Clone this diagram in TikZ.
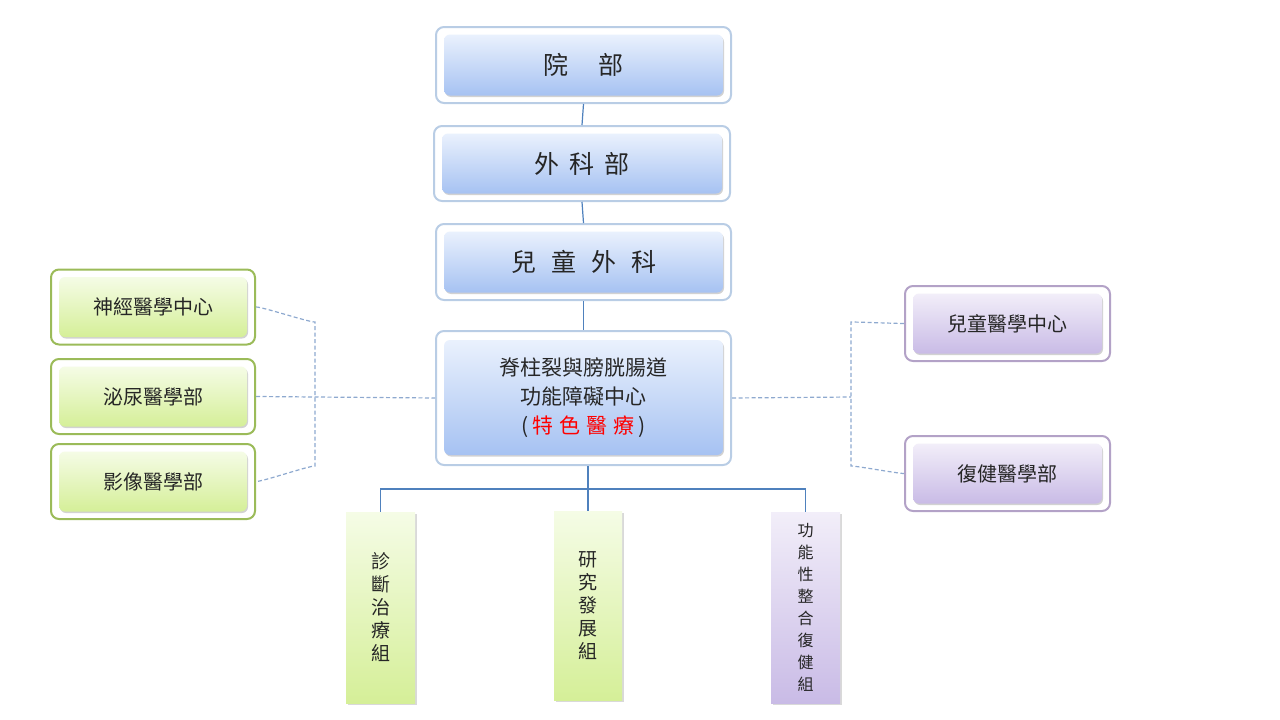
\documentclass[tikz,border=0pt]{standalone}
\usepackage{fontspec}
\setmainfont{Noto Sans CJK TC}
\usetikzlibrary{shadows}
\definecolor{bB}{HTML}{B9CDE5}\definecolor{bT}{HTML}{EAF1FD}\definecolor{bD}{HTML}{A6C2F2}
\definecolor{gB}{HTML}{9BBB59}\definecolor{gT}{HTML}{F5FCE6}\definecolor{gD}{HTML}{D5EF98}
\definecolor{pB}{HTML}{B3A2C7}\definecolor{pT}{HTML}{F2EEF9}\definecolor{pD}{HTML}{C9BBE6}
\definecolor{ln}{HTML}{4F81BD}\definecolor{dl}{HTML}{8EA9CF}
\begin{document}
\begin{tikzpicture}[x=1pt,y=-1pt,
 frame/.style={draw=#1,line width=2pt,fill=white,rounded corners=8pt,inner sep=0pt},
 inner/.style 2 args={rounded corners=6pt,top color=#1,bottom color=#2,drop shadow={shadow xshift=1pt,shadow yshift=-1.5pt,opacity=0.35},inner sep=0pt,align=center,text=black!85},
 bar/.style 2 args={top color=#1,bottom color=#2,drop shadow={shadow xshift=1.5pt,shadow yshift=-1.5pt,opacity=0.3},inner sep=0pt,align=center,text=black!85,font=\fontsize{19}{23}\selectfont},
 solid line/.style={draw=ln,line width=1.2pt},
 dash line/.style={draw=dl,line width=1.2pt,dash pattern=on 4pt off 2.5pt}]
\useasboundingbox (0,0) rectangle (1280,720);
% top chain
\node[frame=bB,minimum width=295pt,minimum height=76pt] (f1) at (583.5,65) {};
\node[inner={bT}{bD},minimum width=279pt,minimum height=61pt,font=\fontsize{25}{30}\selectfont] (b1) at (583.5,65) {院\hspace{1.2em}部};
\node[frame=bB,minimum width=296pt,minimum height=75pt] (f2) at (582,163.5) {};
\node[inner={bT}{bD},minimum width=280pt,minimum height=60pt,font=\fontsize{25}{30}\selectfont] (b2) at (582,163.5) {外\hspace{0.4em}科\hspace{0.4em}部};
\node[frame=bB,minimum width=295pt,minimum height=76pt] (f3) at (583.5,262) {};
\node[inner={bT}{bD},minimum width=279pt,minimum height=61pt,font=\fontsize{25}{30}\selectfont] (b3) at (583.5,262) {兒\hspace{0.6em}童\hspace{0.6em}外\hspace{0.6em}科};
\node[frame=bB,minimum width=295pt,minimum height=134pt] (f4) at (583.5,398) {};
\node[inner={bT}{bD},minimum width=279pt,minimum height=115pt,font=\fontsize{21}{29}\selectfont] (b4) at (583.5,397.5) {脊柱裂與膀胱腸道\\功能障礙中心\\(\,\textcolor{red}{特\hspace{0.3em}色\hspace{0.3em}醫\hspace{0.3em}療}\,)};
\draw[solid line] (f1.south) -- (f2.north);
\draw[solid line] (f2.south) -- (f3.north);
\draw[solid line] (f3.south) -- (f4.north);
% left
\foreach \n/\y/\t in {L1/307/神經醫學中心,L2/396.5/泌尿醫學部,L3/481.5/影像醫學部}{
 \node[frame=gB,minimum width=204pt,minimum height=75pt] (\n) at (153,\y) {};
 \node[inner={gT}{gD},minimum width=188pt,minimum height=60pt,font=\fontsize{20}{24}\selectfont] (\n i) at (153,\y) {\t};}
% right
\foreach \n/\y/\t in {R1/323.5/兒童醫學中心,R2/473.5/復健醫學部}{
 \node[frame=pB,minimum width=205pt,minimum height=75pt] (\n) at (1007.5,\y) {};
 \node[inner={pT}{pD},minimum width=189pt,minimum height=60pt,font=\fontsize{20}{24}\selectfont] (\n i) at (1007.5,\y) {\t};}
% dashed
\coordinate (lc1) at (315,322); \coordinate (lc3) at (315,466);
\coordinate (rc1) at (851,322); \coordinate (rc2) at (851,466);
\draw[dash line] (L1.east) to[out=0,in=180,looseness=0.3] ([yshift=0pt]lc1) -- (lc3) to[out=180,in=0,looseness=0.3] (L3.east);
\draw[dash line] (L2.east) -- (f4.west);
\draw[dash line] (f4.east) -- (851,397);
\draw[dash line] (R1.west) to[out=180,in=0,looseness=0.3] (rc1) -- (rc2) to[out=0,in=180,looseness=0.3] (R2.west);
% bottom
\node[bar={gT}{gD},minimum width=69pt,minimum height=191pt] (d1) at (380.5,607.5) {診\\斷\\治\\療\\組};
\node[bar={gT}{gD},minimum width=68pt,minimum height=189pt] (d2) at (588,605.5) {研\\究\\發\\展\\組};
\node[bar={pT}{pD},minimum width=69pt,minimum height=191pt,font=\fontsize{16}{22}\selectfont] (d3) at (805.5,607.5) {功\\能\\性\\整\\合\\復\\健\\組};
\coordinate (hub) at (588,489);
\draw[solid line] (f4.south -| hub) -- (hub);
\draw[solid line] (d1.north) -- (d1.north |- hub) -- (d3.north |- hub) -- (d3.north);
\draw[solid line] (hub) -- (d2.north);
\end{tikzpicture}
\end{document}
